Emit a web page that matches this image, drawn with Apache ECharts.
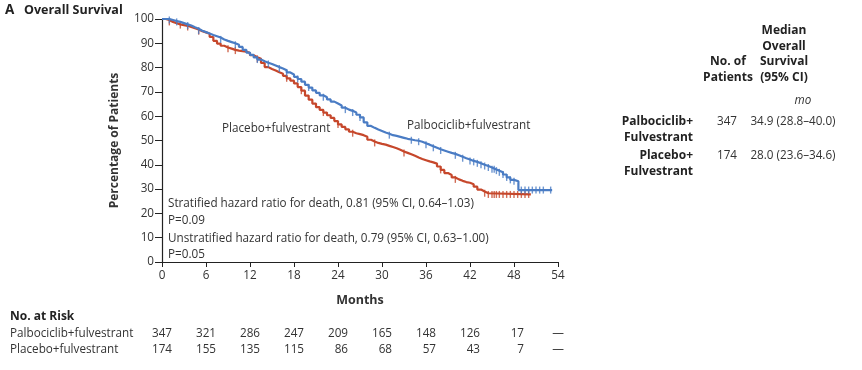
<!DOCTYPE html>
<html><head><meta charset="utf-8">
<script src="https://cdn.jsdelivr.net/npm/echarts@6/dist/echarts.min.js"></script>
<style>html,body{margin:0;padding:0;background:#fff}#c{width:862px;height:370px}</style>
</head><body><div id="c"></div>
<script>
// ---- data ----
const palboMonths = [0,0.5,1,1.5,2,2.5,3,3.5,4,4.5,5,5.5,6,6.5,7,7.5,8,8.5,9,9.5,10,10.5,11,11.5,12,12.5,13,13.5,14,14.5,15,15.5,16,16.5,17,17.5,18,18.5,19,19.5,20,20.5,21,21.5,22,22.5,23,23.5,24,24.5,25,25.5,26,26.5,27,27.5,28,28.5,29,29.5,30,30.5,31,31.5,32,32.5,33,33.5,34,34.5,35,35.5,36,36.5,37,37.5,38,38.5,39,39.5,40,40.5,41,41.5,42,42.5,43,43.5,44,44.5,45,45.5,46,46.5,47,47.5,48,48.6,53.2];
const palboSurv = [100,100,99.6,99.2,98.8,98.3,97.8,97.3,96.6,96.0,95.2,94.6,94.0,93.4,92.9,92.4,91.6,91.0,90.5,90.0,89.4,88.5,87.3,86.2,85.2,84.2,83.3,82.6,82.0,81.5,80.9,80.2,79.6,78.9,78.0,77.2,76.2,75.3,74.2,72.9,71.8,70.6,69.6,68.6,67.8,66.9,66.0,65.2,64.4,63.5,62.7,62.2,61.5,60.6,59.5,57.5,56.0,55.2,54.5,53.9,53.3,52.8,52.2,51.9,51.5,51.1,50.7,50.4,50.1,49.9,49.5,48.9,48.3,47.6,47.0,46.4,45.9,45.4,44.9,44.5,43.9,43.3,42.7,42.2,41.6,41.2,40.6,40.0,39.5,38.9,38.2,37.6,36.9,36.0,34.8,33.8,33.2,29.6,29.6];
const placeboMonths = [0,0.5,1,1.5,2,2.5,3,3.5,4,4.5,5,5.5,6,6.5,7,7.5,8,8.5,9,9.5,10,10.5,11,11.5,12,12.5,13,13.5,14,14.5,15,15.5,16,16.5,17,17.5,18,18.5,19,19.5,20,20.5,21,21.5,22,22.5,23,23.5,24,24.5,25,25.5,26,26.5,27,27.5,28,28.5,29,29.5,30,30.5,31,31.5,32,32.5,33,33.5,34,34.5,35,35.5,36,36.5,37,37.5,38,38.5,39,39.5,40,40.5,41,41.5,42,42.5,43,43.5,44,44.5,50.3];
const placeboSurv = [100,99.6,98.8,98.3,97.8,97.5,97.2,96.7,96.2,95.7,95.0,94.5,93.9,92.6,91.0,89.9,89.0,88.3,87.8,87.3,87.0,86.8,86.6,86.0,85.1,84.3,83.6,81.9,80.2,79.4,78.8,78.1,77.5,76.6,75.6,74.6,73.5,72.0,70.5,68.5,66.8,65.2,63.7,62.6,61.5,60.4,59.3,58.0,56.6,55.6,54.6,53.6,53.0,52.6,52.2,51.5,50.3,49.6,49.0,48.6,48.3,47.8,47.3,46.8,46.2,45.5,44.9,44.3,43.7,43.0,42.4,41.9,41.4,41.0,40.5,39.3,37.9,36.6,35.8,34.8,34.0,33.4,32.9,32.6,32.0,31.0,29.8,29.0,28.3,27.8,27.8];
const palboCensor = [1,2,3.5,5,8,10,13,14.5,16,17,18.5,20,22,25,26,27,31,34,35,36,37,38,40,41,42,42.5,43,43.5,44,44.5,45,45.3,45.6,46,46.5,47,47.5,48,49,49.5,50,50.5,51,51.5,52,53];
const placeboCensor = [1,2.5,3.5,5,9,10,13,17,19,22,24,26,29,33,38,40,44,44.5,45,45.3,45.6,46,46.5,47,47.5,48,48.5,49,49.5,50];
const riskMonths = [0,6,12,18,24,30,36,42,48,54];
const riskPalbo = ['347','321','286','247','209','165','148','126','17','—'];
const riskPlacebo = ['174','155','135','115','86','68','57','43','7','—'];
const xTicks = [0,6,12,18,24,30,36,42,48,54];
const yTicks = [0,10,20,30,40,50,60,70,80,90,100];

const BLUE = '#4a7cc4', RED = '#c6472b', TXT = '#333', FONT = 'Open Sans';
const FS = 11.7;

function pairs(m, s){ return m.map((t,i)=>[t, s[i]]); }
function survAt(m, s, t){ let v = s[0]; for (let i=0;i<m.length;i++){ if (m[i] <= t) v = s[i]; } return v; }
function censorPts(c, m, s){ return c.map(t => [t, survAt(m, s, t)]); }

const chart = echarts.init(document.getElementById('c'), null, {renderer:'canvas'});
const axisLine = {lineStyle:{color:'#222', width:1.2}};
const option = {
  animation:false,
  textStyle:{fontFamily:FONT},
  grid:{left:162, right:304, top:19, bottom:108, containLabel:false},
  xAxis:{type:'value', min:0, max:54, interval:6,
    axisLine:{show:true, onZero:false, ...axisLine},
    axisTick:{show:true, length:5, lineStyle:{color:'#222'}},
    axisLabel:{color:TXT, fontSize:FS, margin:8, fontFamily:FONT},
    splitLine:{show:false},
    name:'Months', nameLocation:'middle', nameGap:32,
    nameTextStyle:{color:TXT, fontSize:12.5, fontWeight:'bold', fontFamily:FONT}},
  yAxis:{type:'value', min:0, max:100, interval:10,
    axisLine:{show:true, ...axisLine},
    axisTick:{show:true, length:7, lineStyle:{color:'#222'}},
    axisLabel:{color:TXT, fontSize:FS, margin:8, fontFamily:FONT},
    splitLine:{show:false},
    name:'Percentage of Patients', nameLocation:'middle', nameGap:41, nameRotate:90,
    nameTextStyle:{color:TXT, fontSize:12, fontWeight:'bold', fontFamily:FONT}},
  series:[
    {type:'line', step:'end', data:pairs(placeboMonths, placeboSurv), showSymbol:false, symbol:'none',
      lineStyle:{color:RED, width:2.2}, z:2},
    {type:'scatter', data:censorPts(placeboCensor, placeboMonths, placeboSurv), symbol:'rect', symbolSize:[1.4,7],
      itemStyle:{color:RED}, z:2},
    {type:'line', step:'end', data:pairs(palboMonths, palboSurv), showSymbol:false, symbol:'none',
      lineStyle:{color:BLUE, width:2.2}, z:3},
    {type:'scatter', data:censorPts(palboCensor, palboMonths, palboSurv), symbol:'rect', symbolSize:[1.4,7],
      itemStyle:{color:BLUE}, z:3}
  ]
};
chart.setOption(option);

// text elements
function t(x, y, text, opts){ return {type:'text', x, y, style:Object.assign({text, fill:TXT, fontFamily:FONT, fontSize:FS, textVerticalAlign:'middle', verticalAlign:'middle'}, opts||{})}; }
const g = [];
g.push(t(5, 10, 'A', {fontWeight:'bold', fontSize:13.5, fill:'#222'}));
g.push(t(24, 10, 'Overall Survival', {fontWeight:'bold', fontSize:12.5, fill:'#222'}));
g.push(t(222, 129, 'Placebo+fulvestrant'));
g.push(t(407, 126, 'Palbociclib+fulvestrant'));
g.push(t(168, 204, 'Stratified hazard ratio for death, 0.81 (95% CI, 0.64–1.03)'));
g.push(t(168, 221, 'P=0.09'));
g.push(t(168, 239, 'Unstratified hazard ratio for death, 0.79 (95% CI, 0.63–1.00)'));
g.push(t(168, 255, 'P=0.05'));
// right table
const bh = {fontWeight:'bold', fontSize:12, align:'center', textAlign:'center', fill:'#222'};
g.push(t(784, 31, 'Median', bh));
g.push(t(784, 47, 'Overall', bh));
g.push(t(784, 62, 'Survival', bh));
g.push(t(784, 78, '(95% CI)', bh));
g.push(t(728, 62, 'No. of', bh));
g.push(t(728, 78, 'Patients', bh));
g.push(t(803, 101, 'mo', {fontStyle:'italic', align:'center', textAlign:'center'}));
const br = {fontWeight:'bold', fontSize:12, align:'right', textAlign:'right', fill:'#222'};
g.push(t(693, 122, 'Palbociclib+', br));
g.push(t(693, 138, 'Fulvestrant', br));
g.push(t(693, 156, 'Placebo+', br));
g.push(t(693, 172, 'Fulvestrant', br));
const cc = {align:'center', textAlign:'center'};
g.push(t(727, 122, '347', cc));
g.push(t(727, 156, '174', cc));
g.push(t(793, 122, '34.9 (28.8–40.0)', cc));
g.push(t(793, 156, '28.0 (23.6–34.6)', cc));
// at-risk table
g.push(t(10, 317, 'No. at Risk', {fontWeight:'bold', fontSize:12, fill:'#222'}));
g.push(t(10, 334, 'Palbociclib+fulvestrant'));
g.push(t(10, 350, 'Placebo+fulvestrant'));
riskMonths.forEach((m, i) => {
  const px = chart.convertToPixel({xAxisIndex:0}, m);
  const dash = riskPalbo[i] === '—';
  const o = dash ? {align:'center', textAlign:'center'} : {align:'right', textAlign:'right'};
  const xx = dash ? px : px + 10;
  g.push(t(xx, 334, riskPalbo[i], o));
  g.push(t(xx, 350, riskPlacebo[i], o));
});
chart.setOption({graphic:{elements:g}});
</script></body></html>
